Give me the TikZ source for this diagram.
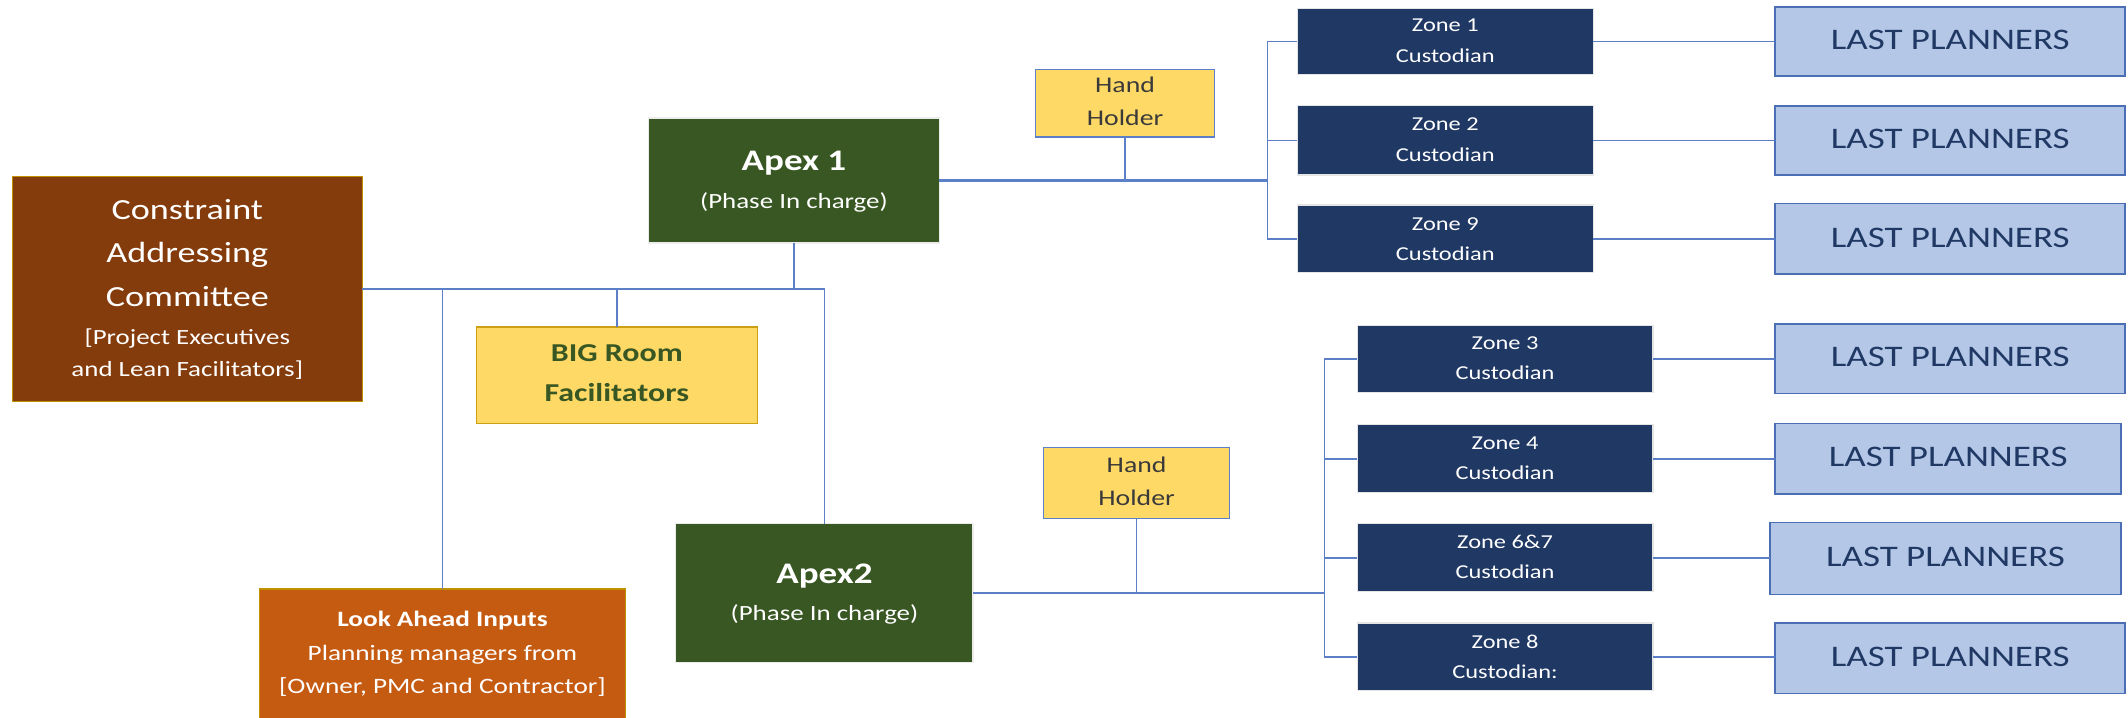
\documentclass[tikz,border=0pt]{standalone}
\usepackage{fontspec}
\setmainfont{Carlito}[FakeStretch=1.24]
\definecolor{cacbrown}{HTML}{843C0C}
\definecolor{laorange}{HTML}{C55A11}
\definecolor{goldline}{HTML}{BF9000}
\definecolor{apexgreen}{HTML}{385723}
\definecolor{hhyellow}{HTML}{FFD966}
\definecolor{zonenavy}{HTML}{203864}
\definecolor{lpblue}{HTML}{B4C7E7}
\definecolor{lpline}{HTML}{4A6FB5}
\definecolor{connblue}{HTML}{5B80C8}
\definecolor{hhtext}{HTML}{3A3A3A}
\definecolor{bigtext}{HTML}{385723}
\begin{document}
\begin{tikzpicture}[x=1pt,y=-1pt,
  box/.style={rectangle,inner sep=0pt,outer sep=0pt,line width=0.9pt},
  cacbox/.style={box,fill=cacbrown,draw=goldline},
  labox/.style={box,fill=laorange,draw=goldline},
  apexbox/.style={box,fill=apexgreen,draw=white!85!gray},
  hhbox/.style={box,fill=hhyellow,draw=connblue},
  bigbox/.style={box,fill=hhyellow,draw=goldline!80!hhyellow},
  zonebox/.style={box,fill=zonenavy,draw=white!80!gray},
  lpbox/.style={box,fill=lpblue,draw=lpline,line width=1.3pt},
  txt/.style={anchor=base,inner sep=0pt,outer sep=0pt},
  wtxt/.style={txt,text=white},
  conn/.style={draw=connblue,line width=1.2pt},
  thickconn/.style={draw=connblue,line width=2pt},
  zt/.style={wtxt,font=\fontsize{14.5}{17}\selectfont},
  lpt/.style={txt,text=zonenavy,font=\fontsize{22}{26}\selectfont},
  hht/.style={txt,text=hhtext,font=\fontsize{16.5}{20}\selectfont}
]
\useasboundingbox (0,0) rectangle (1568,529);
\fill[white] (0,0) rectangle (1568,529);

% ---------- boxes ----------
\node[cacbox,minimum width=258pt,minimum height=166pt] (cac) at (138,213) {};
\node[apexbox,minimum width=214pt,minimum height=92pt] (apex1) at (585,133) {};
\node[hhbox,minimum width=132pt,minimum height=50pt] (hh1) at (829,76) {};
\node[bigbox,minimum width=207pt,minimum height=71pt] (big) at (454.5,276.5) {};
\node[labox,minimum width=270pt,minimum height=101pt] (la) at (326,484.5) {};
\node[apexbox,minimum width=219pt,minimum height=102pt] (apex2) at (607.5,437) {};
\node[hhbox,minimum width=137pt,minimum height=52pt] (hh2) at (837.5,356) {};

\node[zonebox,minimum width=218pt,minimum height=49pt] (z1) at (1065,30.5) {};
\node[zonebox,minimum width=218pt,minimum height=51pt] (z2) at (1065,103.5) {};
\node[zonebox,minimum width=218pt,minimum height=50pt] (z9) at (1065,176) {};
\node[zonebox,minimum width=218pt,minimum height=49pt] (z3) at (1109,264.5) {};
\node[zonebox,minimum width=218pt,minimum height=50pt] (z4) at (1109,338) {};
\node[zonebox,minimum width=218pt,minimum height=50pt] (z67) at (1109,411) {};
\node[zonebox,minimum width=218pt,minimum height=50pt] (z8) at (1109,484) {};

\node[lpbox,minimum width=258pt,minimum height=51pt] (lp1) at (1437,30.5) {};
\node[lpbox,minimum width=258pt,minimum height=51pt] (lp2) at (1437,103.5) {};
\node[lpbox,minimum width=258pt,minimum height=52pt] (lp9) at (1437,176) {};
\node[lpbox,minimum width=258pt,minimum height=51pt] (lp3) at (1437,264.5) {};
\node[lpbox,minimum width=255pt,minimum height=52pt] (lp4) at (1435.5,338) {};
\node[lpbox,minimum width=259pt,minimum height=53pt] (lp67) at (1433.5,411.5) {};
\node[lpbox,minimum width=258pt,minimum height=52pt] (lp8) at (1437,485) {};

% ---------- texts ----------
\node[wtxt,font=\fontsize{21.5}{26}\selectfont] (cact1) at (138,161.4) {Constraint};
\node[wtxt,font=\fontsize{21.5}{26}\selectfont] (cact2) at (138,193.3) {Addressing};
\node[wtxt,font=\fontsize{21.5}{26}\selectfont] (cact3) at (138,226) {Committee};
\node[wtxt,font=\fontsize{16}{19}\selectfont] (cact4) at (138,253.8) {[Project Executives};
\node[wtxt,font=\fontsize{16}{19}\selectfont] (cact5) at (138,277.6) {and Lean Facilitators]};

\node[wtxt,font=\bfseries\fontsize{22}{26}\selectfont] (a1t1) at (585,125.8) {Apex 1};
\node[wtxt,font=\fontsize{16}{19}\selectfont] (a1t2) at (585,153.5) {(Phase In charge)};
\node[wtxt,font=\bfseries\fontsize{22}{26}\selectfont] (a2t1) at (607.5,429.9) {Apex2};
\node[wtxt,font=\fontsize{16}{19}\selectfont] (a2t2) at (607.5,457.4) {(Phase In charge)};

\node[txt,text=bigtext,font=\bfseries\fontsize{19}{23}\selectfont] (bigt1) at (454.5,266.5) {BIG Room};
\node[txt,text=bigtext,font=\bfseries\fontsize{19}{23}\selectfont] (bigt2) at (454.5,295.5) {Facilitators};

\node[wtxt,font=\bfseries\fontsize{16.2}{19}\selectfont] (lat1) at (326,461.8) {Look Ahead Inputs};
\node[wtxt,font=\fontsize{16.2}{19}\selectfont] (lat2) at (326,486.4) {Planning managers from};
\node[wtxt,font=\fontsize{16.2}{19}\selectfont] (lat3) at (326,510.9) {[Owner, PMC and Contractor]};

\node[hht] (hh1t1) at (829,68.5) {Hand};
\node[hht] (hh1t2) at (829,92.6) {Holder};
\node[hht] (hh2t1) at (837.5,348.5) {Hand};
\node[hht] (hh2t2) at (837.5,372.6) {Holder};

\node[zt] (z1t1) at (1065,23.5) {Zone 1};
\node[zt] (z1t2) at (1065,46.2) {Custodian};
\node[zt] (z2t1) at (1065,96.3) {Zone 2};
\node[zt] (z2t2) at (1065,119.2) {Custodian};
\node[zt] (z9t1) at (1065,169.5) {Zone 9};
\node[zt] (z9t2) at (1065,192.1) {Custodian};
\node[zt] (z3t1) at (1109,257.6) {Zone 3};
\node[zt] (z3t2) at (1109,279.8) {Custodian};
\node[zt] (z4t1) at (1109,331.1) {Zone 4};
\node[zt] (z4t2) at (1109,353.3) {Custodian};
\node[zt] (z67t1) at (1109,404.1) {Zone 6\&7};
\node[zt] (z67t2) at (1109,426.3) {Custodian};
\node[zt] (z8t1) at (1109,477.8) {Zone 8};
\node[zt] (z8t2) at (1109,500) {Custodian:};

\node[lpt] (lp1t) at (1437,36.6) {LAST PLANNERS};
\node[lpt] (lp2t) at (1437,109.6) {LAST PLANNERS};
\node[lpt] (lp9t) at (1437,182.2) {LAST PLANNERS};
\node[lpt] (lp3t) at (1437,270.4) {LAST PLANNERS};
\node[lpt] (lp4t) at (1435.5,344) {LAST PLANNERS};
\node[lpt] (lp67t) at (1433.5,417.5) {LAST PLANNERS};
\node[lpt] (lp8t) at (1437,490.8) {LAST PLANNERS};

% ---------- connectors ----------
\coordinate (bus1) at (934,133);
\coordinate (bus2) at (976,437);

\draw[conn] (cac.east) -- (apex2.north |- cac.east) -- (apex2.north);
\draw[conn] (apex1.south) -- (apex1.south |- cac.east);
\draw[conn] (big.north) -- (big.north |- cac.east);
\draw[conn] (la.north) -- (la.north |- cac.east);

\draw[thickconn] (apex1.east) -- (bus1);
\draw[conn] (hh1.south) -- (hh1.south |- apex1.east);
\draw[conn] (z1.west) -| (bus1);
\draw[conn] (z9.west) -| (bus1);
\draw[conn] (z2.west) -- (z2.west -| bus1);

\draw[thickconn] (apex2.east) -- (bus2);
\draw[conn] (hh2.south) -- (hh2.south |- apex2.east);
\draw[conn] (z3.west) -| (bus2);
\draw[conn] (z8.west) -| (bus2);
\draw[conn] (z4.west) -- (z4.west -| bus2);
\draw[conn] (z67.west) -- (z67.west -| bus2);

\foreach \z/\l in {z1/lp1,z2/lp2,z9/lp9,z3/lp3,z4/lp4,z67/lp67,z8/lp8}{
  \draw[conn] (\z.east) -- (\z.east -| \l.west);
}
\end{tikzpicture}
\end{document}
